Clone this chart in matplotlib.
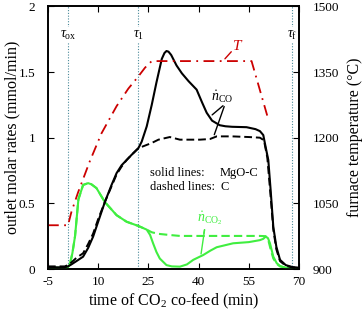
import numpy as np
import matplotlib
matplotlib.use('Agg')
import matplotlib.pyplot as plt

plt.rcParams['font.family'] = ['Liberation Serif', 'DejaVu Serif']
plt.rcParams['mathtext.fontset'] = 'custom'
plt.rcParams['mathtext.rm'] = 'Liberation Serif'
plt.rcParams['mathtext.it'] = 'Liberation Serif:italic'
plt.rcParams['axes.unicode_minus'] = False
plt.rcParams['font.size'] = 9.5

# MgO-C, CO (solid black)
t_co_mgo = [-5, 0, 1, 2, 3.5, 5.5, 7, 8.5, 10, 12, 14, 15.5, 17, 18.5, 20, 22, 23, 24.5,
            26, 27.4, 29, 29.8, 30.4, 31, 31.8, 33.4, 35, 37, 39.4, 41, 42.4, 44, 46.3, 48,
            50, 54.3, 57, 58.3, 59.3, 60, 60.8, 61.5, 62.3, 63.2, 64.3, 66, 68, 70]
co_mgo = [0.013, 0.013, 0.02, 0.035, 0.06, 0.094, 0.16, 0.247, 0.36, 0.51, 0.64, 0.73, 0.79,
          0.83, 0.87, 0.92, 0.97, 1.086, 1.25, 1.42, 1.6, 1.645, 1.66, 1.655, 1.63, 1.55,
          1.49, 1.43, 1.366, 1.27, 1.19, 1.13, 1.095, 1.087, 1.083, 1.08, 1.065, 1.05, 1.02,
          0.93, 0.83, 0.6, 0.32, 0.17, 0.07, 0.03, 0.015, 0.01]
# C, CO (dashed black)
t_co_c = [-5, 0, 1, 2, 3.5, 5.5, 7, 8.5, 10, 12, 14, 15.5, 17, 18.5, 20, 22, 24, 26, 28,
          31.4, 34.4, 38, 40.4, 43.4, 45.4, 50, 55, 58.3, 59.5, 60.5, 61.5, 62.3, 63.2,
          64.3, 66, 68, 70]
co_c = [0.02, 0.02, 0.03, 0.05, 0.085, 0.12, 0.19, 0.27, 0.38, 0.51, 0.63, 0.72, 0.78,
        0.83, 0.87, 0.92, 0.94, 0.96, 0.985, 1.005, 0.985, 0.985, 0.985, 0.99, 1.01, 1.01,
        1.005, 1.0, 0.98, 0.85, 0.55, 0.3, 0.15, 0.06, 0.025, 0.012, 0.008]
# MgO-C, CO2 (solid green)
t_co2_mgo = [-5, 0.5, 1, 1.6, 2.3, 3.1, 4.1, 5.5, 7, 8, 9.5, 12, 15.5, 18.5, 22, 24.5, 25.5,
             26.4, 27.4, 28.4, 30.4, 32, 34.4, 36.5, 38.4, 41.4, 43.5, 45.4, 50.3, 55, 58.3,
             59.3, 60, 60.7, 61.3, 62.3, 63.3, 64.3, 66, 70]
co2_mgo = [0.01, 0.01, 0.015, 0.04, 0.12, 0.25, 0.53, 0.64, 0.654, 0.645, 0.616, 0.51, 0.41,
           0.36, 0.328, 0.30, 0.26, 0.196, 0.13, 0.08, 0.03, 0.02, 0.018, 0.035, 0.07, 0.107,
           0.14, 0.166, 0.196, 0.205, 0.22, 0.23, 0.247, 0.235, 0.196, 0.094, 0.045, 0.023,
           0.01, 0.005]
# C, CO2 (dashed green)
t_co2_c = [-5, 0.5, 1, 1.6, 2.3, 3.1, 4.1, 5.5, 7, 8, 9.5, 12, 15.5, 18.5, 22, 24.5, 26, 28,
           31, 34.4, 40, 50, 58.3, 60, 60.8, 61.5, 62.3, 63.3, 64.3, 66, 70]
co2_c = [0.01, 0.01, 0.015, 0.04, 0.12, 0.25, 0.53, 0.64, 0.654, 0.645, 0.616, 0.51, 0.41,
         0.36, 0.328, 0.30, 0.28, 0.268, 0.26, 0.252, 0.252, 0.252, 0.252, 0.25, 0.22, 0.15,
         0.08, 0.04, 0.02, 0.01, 0.005]
# furnace temperature
t_T = [-5, 1, 2, 4, 7.5, 11, 15.5, 19, 22, 24, 26, 55.8, 60.5]
T = [1000, 1000, 1030, 1075, 1146, 1210, 1272, 1312, 1340, 1360, 1375, 1375, 1250]

tau = {r'$\tau_{\rm ox}$': 1, r'$\tau_{\rm 1}$': 22, r'$\tau_{\rm f}$': 68}

fig = plt.figure(figsize=(3.63, 3.18), dpi=100)
ax = fig.add_axes([0.132, 0.154, 0.692, 0.826])
ax2 = ax.twinx()

green = '#40ee40'
red = '#cc0000'
vcol = '#4a8a9a'

for lab, tv in tau.items():
    ax.axvline(tv, color=vcol, ls=(0, (1, 1.5)), lw=0.8, zorder=1)
    ax.text(tv, 1.78, lab, ha='center', va='center', fontsize=10,
            bbox=dict(fc='white', ec='none', pad=1), zorder=2)

ax.plot(t_co2_c, co2_c, color=green, lw=1.5, ls=(0, (4, 2)), zorder=3)
ax.plot(t_co2_mgo, co2_mgo, color=green, lw=1.5, zorder=3)
ax.plot(t_co_c, co_c, color='black', lw=1.4, ls=(0, (4, 2)), zorder=4)
ax.plot(t_co_mgo, co_mgo, color='black', lw=1.5, zorder=4)
ax2.plot(t_T, T, color=red, lw=1.3, ls=(0, (6, 3, 1, 3)))

# annotations
ax.text(46.9, 1.31, r'$\dot{n}_{\rm CO}$', ha='center', va='center', fontsize=10)
ax.annotate('', xy=(43.4, 1.16), xytext=(47.9, 1.257), arrowprops=dict(arrowstyle='-', lw=1))
ax.annotate('', xy=(44.4, 1.003), xytext=(47.9, 1.257), arrowprops=dict(arrowstyle='-', lw=1))
ax.text(43.4, 0.39, r'$\dot{n}_{\rm CO_2}$', ha='center', va='center', fontsize=10, color=green)
ax.annotate('', xy=(41.4, 0.25), xytext=(41.9, 0.32), arrowprops=dict(arrowstyle='-', lw=1, color=green))
ax.annotate('', xy=(40.6, 0.094), xytext=(41.9, 0.32), arrowprops=dict(arrowstyle='-', lw=1, color=green))
ax.text(51.8, 1.70, r'$T$', ha='center', va='center', fontsize=11, color=red)
ax.annotate('', xy=(47.3, 1.585), xytext=(50.3, 1.67), arrowprops=dict(arrowstyle='-', lw=1, color=red))

ax.text(25.5, 0.734, 'solid lines:', va='center', fontsize=9)
ax.text(46.4, 0.734, 'MgO-C', va='center', fontsize=9)
ax.text(25.5, 0.627, 'dashed lines:', va='center', fontsize=9)
ax.text(46.4, 0.627, 'C', va='center', fontsize=9)

ax.set_xlim(-5, 70)
ax.set_ylim(0, 2)
ax2.set_ylim(900, 1500)
ax.set_xticks([-5, 10, 25, 40, 55, 70])
ax.set_yticks([0, 0.5, 1, 1.5, 2])
ax.set_yticklabels(['0', '0.5', '1', '1.5', '2'])
ax2.set_yticks([900, 1050, 1200, 1350, 1500])
ax.tick_params(axis='y', direction='in', length=4, width=0.8, pad=9)
ax.tick_params(axis='x', direction='in', top=True, length=4, width=0.8, pad=5)
ax2.tick_params(direction='in', length=4, width=0.8, pad=10)
for a in (ax, ax2):
    for s in a.spines.values():
        s.set_linewidth(1.2)

ax.set_xlabel(r'time of CO$_2$ co-feed (min)', fontsize=11.5, labelpad=3)
ax.set_ylabel('outlet molar rates (mmol/min)', fontsize=11.5)
ax.yaxis.set_label_coords(-0.11, 0.5)
ax2.set_ylabel('furnace temperature (°C)', fontsize=11.5, labelpad=5)

fig.savefig('out.png', dpi=100)
